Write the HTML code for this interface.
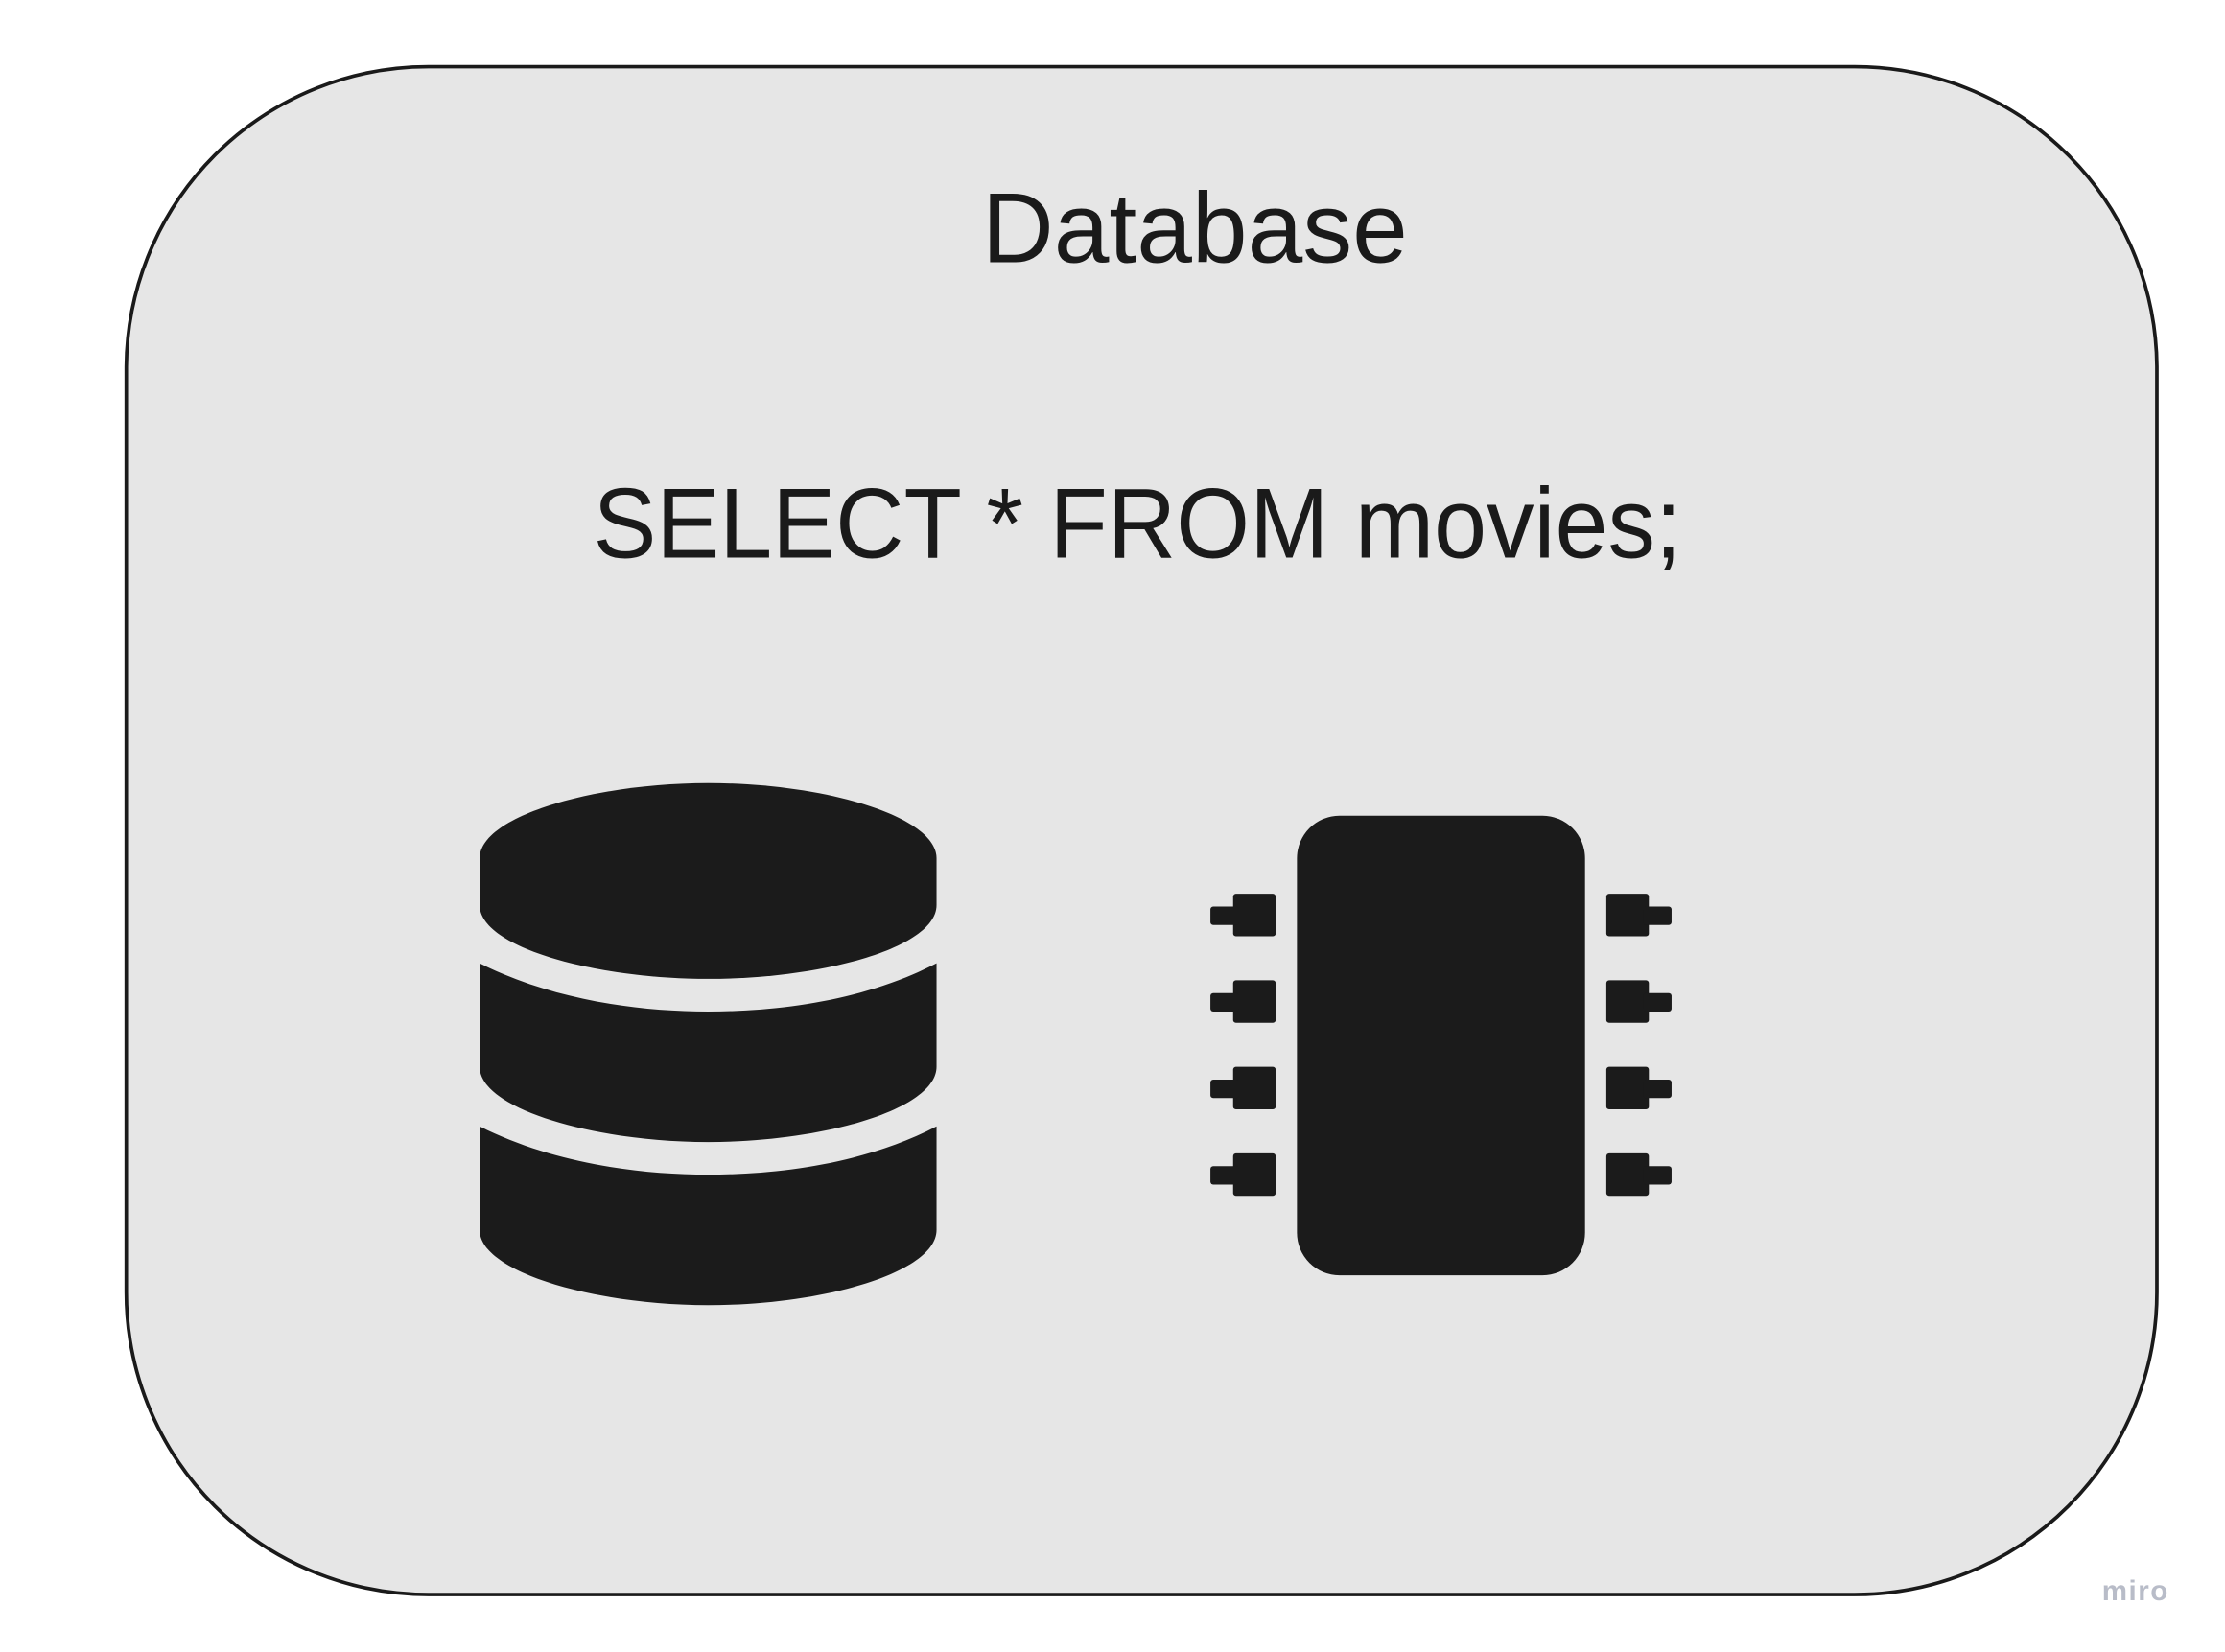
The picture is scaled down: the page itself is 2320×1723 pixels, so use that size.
<!DOCTYPE html>
<html><head><style>
html,body{margin:0;padding:0;background:#fff;}
svg{display:block;}
</style></head><body>
<svg width="2320" height="1723" viewBox="0 0 1568 1164.5" xmlns="http://www.w3.org/2000/svg">
<rect x="89" y="47" width="1431" height="1077" rx="213" ry="213" fill="#e6e6e6" stroke="#1a1a1a" stroke-width="2.5"/>
<text x="692" y="185" textLength="300" lengthAdjust="spacingAndGlyphs" font-family="Liberation Sans, sans-serif" font-size="70" fill="#1a1a1a">Database</text>
<text x="418" y="393" textLength="767" lengthAdjust="spacingAndGlyphs" font-family="Liberation Sans, sans-serif" font-size="70" fill="#1a1a1a">SELECT * FROM movies;</text>
<g fill="#1b1b1b">
<path d="M338,605 C338,575 420,552 499,552 C580,552 660,575 660,605 L660,638 C660,668 580,690 499,690 C420,690 338,668 338,638 Z"/>
<path d="M338,679 C390,705 450,713 499,713 C550,713 610,705 660,679 L660,752 C660,782 580,805 499,805 C420,805 338,782 338,752 Z"/>
<path d="M338,794 C390,820 450,828 499,828 C550,828 610,820 660,794 L660,867 C660,897 580,920 499,920 C420,920 338,897 338,867 Z"/>
<rect x="914" y="575" width="203" height="324" rx="30" ry="30"/>
<g id="pl">
<rect x="869" y="630" width="30" height="30" rx="2"/>
<rect x="853" y="639" width="20" height="13" rx="2"/>
</g>
<use href="#pl" y="61"/><use href="#pl" y="122"/><use href="#pl" y="183"/>
<g id="pr">
<rect x="1132" y="630" width="30" height="30" rx="2"/>
<rect x="1158" y="639" width="20" height="13" rx="2"/>
</g>
<use href="#pr" y="61"/><use href="#pr" y="122"/><use href="#pr" y="183"/>
</g>
<text x="1505" y="1128" text-anchor="middle" font-family="Liberation Sans, sans-serif" font-size="20" font-weight="bold" letter-spacing="1" fill="#b8bcc8">miro</text>
</svg>
</body></html>
